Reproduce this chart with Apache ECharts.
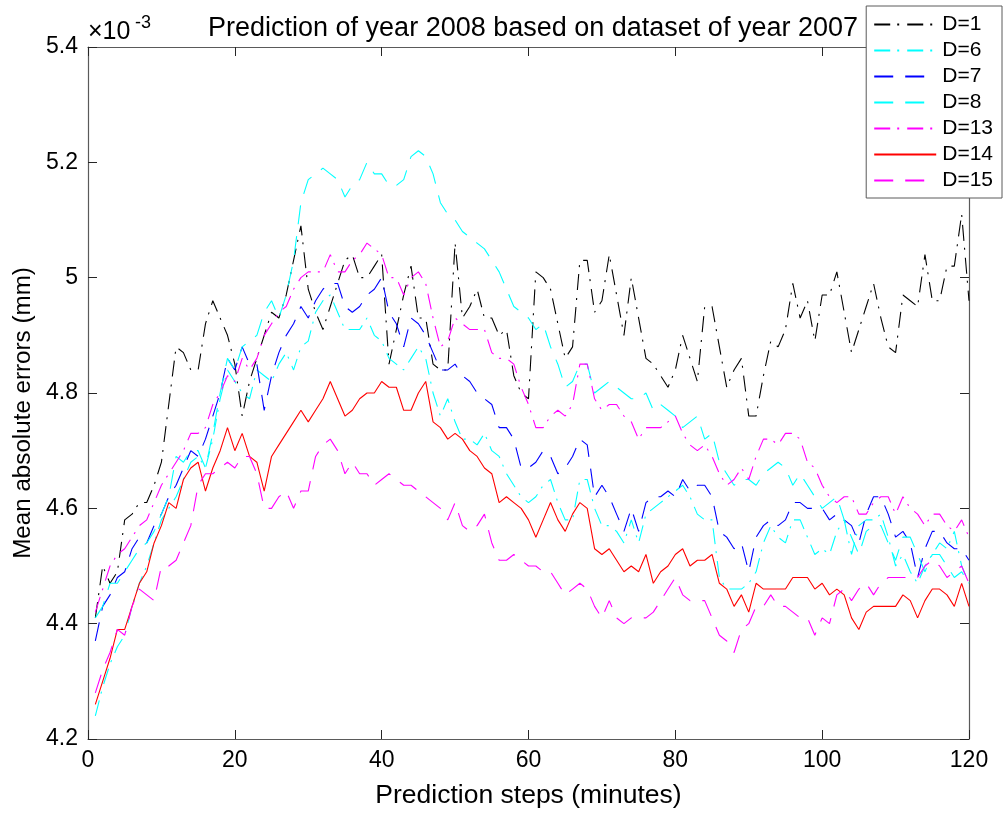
<!DOCTYPE html>
<html>
<head>
<meta charset="utf-8">
<script src="https://cdn.jsdelivr.net/npm/echarts@6/dist/echarts.min.js"></script>
<style>
  html, body { margin: 0; padding: 0; background: #fff; }
  #main { width: 1004px; height: 814px; }
</style>
</head>
<body>
<div id="main"></div>
<script>
// mean absolute errors, in units of 1e-3 mm, for steps 1..120
const d1 = [4.41, 4.50, 4.47, 4.49, 4.58, 4.59, 4.61, 4.61, 4.64, 4.68, 4.78, 4.88, 4.87, 4.84, 4.84, 4.92, 4.96, 4.93, 4.90, 4.85,
  4.76, 4.82, 4.86, 4.90, 4.94, 4.93, 4.97, 5.03, 5.09, 4.98, 4.94, 4.91, 4.95, 4.99, 5.03, 5.04, 5.00, 5.00, 5.02, 5.04,
  4.85, 4.91, 4.97, 5.02, 4.93, 4.93, 4.85, 4.84, 4.84, 5.06, 4.93, 4.95, 4.98, 4.93, 4.93, 4.90, 4.91, 4.83, 4.80, 4.79,
  5.01, 5.00, 4.98, 4.92, 4.86, 4.88, 5.03, 5.03, 4.94, 4.96, 5.04, 4.97, 4.90, 5.00, 4.93, 4.86, 4.85, 4.83, 4.81, 4.84,
  4.90, 4.86, 4.82, 4.95, 4.95, 4.88, 4.81, 4.84, 4.86, 4.76, 4.76, 4.83, 4.89, 4.88, 4.91, 4.99, 4.93, 4.96, 4.89, 4.97,
  4.97, 5.01, 4.94, 4.87, 4.91, 4.95, 4.99, 4.93, 4.88, 4.87, 4.97, 4.96, 4.95, 5.04, 4.96, 4.96, 5.02, 5.02, 5.11, 4.96];
const d6 = [4.24, 4.29, 4.33, 4.36, 4.38, 4.43, 4.47, 4.50, 4.54, 4.58, 4.60, 4.62, 4.65, 4.68, 4.69, 4.67, 4.72, 4.79, 4.84, 4.82,
  4.80, 4.79, 4.84, 4.83, 4.82, 4.85, 4.87, 4.84, 4.88, 4.89, 4.94, 4.96, 4.97, 4.94, 4.91, 4.91, 4.91, 4.93, 4.90, 4.89,
  4.86, 4.85, 4.84, 4.86, 4.88, 4.86, 4.80, 4.76, 4.79, 4.75, 4.72, 4.72, 4.71, 4.73, 4.70, 4.69, 4.66, 4.64, 4.62, 4.61,
  4.62, 4.64, 4.65, 4.61, 4.58, 4.58, 4.65, 4.65, 4.60, 4.57, 4.57, 4.56, 4.54, 4.58, 4.54, 4.59, 4.60, 4.61, 4.62, 4.63,
  4.64, 4.62, 4.59, 4.58, 4.58, 4.48, 4.46, 4.46, 4.46, 4.47, 4.49, 4.54, 4.57, 4.55, 4.54, 4.58, 4.58, 4.55, 4.52, 4.53,
  4.52, 4.56, 4.58, 4.52, 4.57, 4.58, 4.58, 4.59, 4.55, 4.50, 4.52, 4.49, 4.47, 4.50, 4.52, 4.54, 4.53, 4.56, 4.50, 4.47];
const d7 = [4.37, 4.43, 4.45, 4.48, 4.49, 4.53, 4.55, 4.54, 4.57, 4.59, 4.62, 4.64, 4.67, 4.70, 4.69, 4.72, 4.76, 4.80, 4.86, 4.84,
  4.88, 4.85, 4.85, 4.77, 4.83, 4.87, 4.90, 4.92, 4.95, 4.93, 4.96, 4.98, 4.99, 4.99, 4.95, 4.94, 4.95, 4.97, 4.98, 5.00,
  4.94, 4.92, 4.88, 4.93, 4.92, 4.90, 4.87, 4.84, 4.84, 4.85, 4.83, 4.82, 4.80, 4.79, 4.78, 4.74, 4.74, 4.72, 4.67, 4.67,
  4.68, 4.70, 4.69, 4.66, 4.67, 4.69, 4.72, 4.71, 4.62, 4.64, 4.62, 4.59, 4.56, 4.60, 4.56, 4.61, 4.62, 4.62, 4.63, 4.62,
  4.65, 4.63, 4.64, 4.64, 4.62, 4.56, 4.55, 4.53, 4.54, 4.49, 4.55, 4.57, 4.58, 4.57, 4.58, 4.61, 4.61, 4.60, 4.60, 4.60,
  4.58, 4.59, 4.58, 4.57, 4.54, 4.59, 4.62, 4.62, 4.59, 4.55, 4.56, 4.54, 4.48, 4.53, 4.56, 4.56, 4.54, 4.53, 4.53, 4.51];
const d8 = [4.41, 4.43, 4.47, 4.47, 4.49, 4.51, 4.53, 4.54, 4.56, 4.59, 4.62, 4.69, 4.68, 4.70, 4.70, 4.67, 4.73, 4.80, 4.86, 4.84,
  4.88, 4.89, 4.90, 4.94, 4.96, 4.93, 4.97, 5.03, 5.13, 5.17, 5.18, 5.19, 5.18, 5.17, 5.14, 5.16, 5.17, 5.20, 5.18, 5.18,
  5.16, 5.16, 5.17, 5.21, 5.22, 5.21, 5.18, 5.13, 5.11, 5.10, 5.08, 5.07, 5.06, 5.05, 5.03, 5.01, 4.98, 4.95, 4.94, 4.93,
  4.91, 4.92, 4.88, 4.85, 4.81, 4.82, 4.85, 4.85, 4.80, 4.81, 4.82, 4.81, 4.80, 4.79, 4.79, 4.80, 4.77, 4.78, 4.77, 4.76,
  4.74, 4.75, 4.76, 4.72, 4.73, 4.68, 4.66, 4.64, 4.65, 4.65, 4.64, 4.66, 4.67, 4.68, 4.67, 4.64, 4.66, 4.64, 4.62, 4.60,
  4.61, 4.62, 4.58, 4.55, 4.52, 4.56, 4.57, 4.57, 4.54, 4.51, 4.55, 4.55, 4.52, 4.49, 4.52, 4.52, 4.50, 4.48, 4.49, 4.47];
const d13 = [4.42, 4.46, 4.50, 4.52, 4.53, 4.55, 4.57, 4.58, 4.61, 4.64, 4.66, 4.68, 4.70, 4.73, 4.73, 4.74, 4.78, 4.80, 4.83, 4.82,
  4.86, 4.84, 4.86, 4.90, 4.92, 4.94, 4.95, 4.98, 5.00, 5.01, 5.01, 5.01, 5.04, 5.01, 5.01, 5.03, 5.04, 5.06, 5.05, 5.04,
  5.00, 5.00, 4.97, 5.00, 5.01, 4.99, 4.93, 4.88, 4.89, 4.93, 4.92, 4.91, 4.91, 4.91, 4.87, 4.86, 4.86, 4.85, 4.81, 4.78,
  4.74, 4.74, 4.76, 4.77, 4.76, 4.78, 4.85, 4.85, 4.79, 4.77, 4.78, 4.78, 4.76, 4.75, 4.72, 4.74, 4.74, 4.74, 4.75, 4.76,
  4.73, 4.71, 4.70, 4.71, 4.69, 4.66, 4.64, 4.65, 4.67, 4.65, 4.69, 4.72, 4.72, 4.71, 4.73, 4.73, 4.72, 4.68, 4.67, 4.64,
  4.62, 4.61, 4.62, 4.62, 4.59, 4.59, 4.61, 4.62, 4.62, 4.59, 4.62, 4.60, 4.59, 4.57, 4.59, 4.59, 4.57, 4.56, 4.58, 4.55];
const d14 = [4.26, 4.30, 4.34, 4.39, 4.39, 4.43, 4.47, 4.49, 4.54, 4.57, 4.61, 4.60, 4.65, 4.67, 4.68, 4.63, 4.67, 4.70, 4.74, 4.70,
  4.73, 4.69, 4.68, 4.63, 4.69, 4.71, 4.73, 4.75, 4.77, 4.75, 4.77, 4.79, 4.82, 4.79, 4.76, 4.77, 4.79, 4.80, 4.80, 4.82,
  4.81, 4.81, 4.77, 4.77, 4.80, 4.82, 4.75, 4.74, 4.72, 4.73, 4.72, 4.70, 4.69, 4.67, 4.66, 4.61, 4.62, 4.61, 4.60, 4.58,
  4.55, 4.58, 4.61, 4.58, 4.56, 4.59, 4.61, 4.60, 4.53, 4.52, 4.53, 4.51, 4.49, 4.50, 4.49, 4.52, 4.47, 4.49, 4.50, 4.52,
  4.53, 4.50, 4.51, 4.51, 4.52, 4.47, 4.46, 4.43, 4.45, 4.42, 4.47, 4.46, 4.46, 4.46, 4.46, 4.48, 4.48, 4.48, 4.46, 4.47,
  4.45, 4.46, 4.45, 4.41, 4.39, 4.42, 4.43, 4.43, 4.43, 4.43, 4.45, 4.44, 4.41, 4.44, 4.46, 4.46, 4.45, 4.43, 4.47, 4.43];
const d15 = [4.28, 4.32, 4.35, 4.39, 4.38, 4.43, 4.46, 4.45, 4.44, 4.50, 4.50, 4.51, 4.54, 4.57, 4.64, 4.66, 4.66, 4.67, 4.68, 4.67,
  4.69, 4.69, 4.66, 4.60, 4.60, 4.62, 4.63, 4.60, 4.63, 4.63, 4.69, 4.71, 4.72, 4.70, 4.66, 4.68, 4.66, 4.66, 4.64, 4.65,
  4.66, 4.65, 4.64, 4.64, 4.63, 4.62, 4.61, 4.60, 4.58, 4.61, 4.57, 4.56, 4.57, 4.59, 4.54, 4.51, 4.51, 4.52, 4.51, 4.50,
  4.50, 4.49, 4.49, 4.47, 4.45, 4.46, 4.47, 4.46, 4.43, 4.41, 4.44, 4.41, 4.40, 4.41, 4.41, 4.41, 4.42, 4.44, 4.46, 4.48,
  4.45, 4.44, 4.44, 4.44, 4.41, 4.38, 4.37, 4.35, 4.39, 4.40, 4.43, 4.43, 4.45, 4.43, 4.43, 4.42, 4.41, 4.41, 4.38, 4.41,
  4.40, 4.45, 4.46, 4.44, 4.46, 4.47, 4.45, 4.47, 4.48, 4.48, 4.48, 4.48, 4.48, 4.50, 4.51, 4.50, 4.48, 4.49, 4.50, 4.47];

const legendNames = ['D=1', 'D=6', 'D=7', 'D=8', 'D=13', 'D=14', 'D=15'];
const yTicks = [4.2, 4.4, 4.6, 4.8, 5.0, 5.2, 5.4];

const FONT = '"Liberation Sans", Arial, Helvetica, sans-serif';
const AXIS = '#5a5a5a';
const TICK = '#262626';
const DASH = [19, 12];
const DASHDOT = [16, 7, 2, 8];

const styles = [
  { data: d1, color: '#000000', type: DASHDOT },
  { data: d6, color: '#00ffff', type: DASHDOT },
  { data: d7, color: '#0000ff', type: DASH },
  { data: d8, color: '#00ffff', type: DASH },
  { data: d13, color: '#ff00ff', type: DASHDOT },
  { data: d14, color: '#ff0000', type: 'solid' },
  { data: d15, color: '#ff00ff', type: DASH },
];

function toPoints(values) {
  return values.map((v, i) => [i + 1, v]);
}

const chart = echarts.init(document.getElementById('main'), null, { renderer: 'canvas' });

const axisCommon = {
  axisLine: { show: true, onZero: false, lineStyle: { color: AXIS, width: 1.2 } },
  axisTick: { show: true, inside: true, length: 9, lineStyle: { color: TICK, width: 1 } },
  splitLine: { show: false },
};

chart.setOption({
  animation: false,
  backgroundColor: '#ffffff',
  textStyle: { fontFamily: FONT },
  title: {
    text: 'Prediction of year 2008 based on dataset of year 2007',
    left: 528,
    top: 10,
    textAlign: 'center',
    textStyle: { fontFamily: FONT, fontSize: 27, fontWeight: 'normal', color: '#000' },
  },
  grid: { left: 88, right: 35, top: 47, bottom: 73, containLabel: false },
  legend: {
    data: legendNames,
    orient: 'vertical',
    right: 2,
    top: 6,
    itemWidth: 62,
    itemHeight: 14,
    itemGap: 5,
    padding: [8, 9, 7, 7],
    backgroundColor: '#ffffff',
    borderColor: AXIS,
    borderWidth: 1,
    borderRadius: 0,
    itemStyle: { color: 'rgba(0,0,0,0)', borderWidth: 0, opacity: 0 },
    textStyle: { fontFamily: FONT, fontSize: 21, color: '#000', padding: [0, 0, 0, 1] },
  },
  xAxis: [
    Object.assign({
      type: 'value', min: 0, max: 120, interval: 20, position: 'bottom',
      name: 'Prediction steps (minutes)', nameLocation: 'middle', nameGap: 43,
      nameTextStyle: { fontFamily: FONT, fontSize: 26.5, color: '#000' },
      axisLabel: { fontFamily: FONT, fontSize: 23, color: '#000', margin: 10 },
    }, axisCommon),
    Object.assign({
      type: 'value', min: 0, max: 120, interval: 20, position: 'top',
      axisLabel: { show: false },
    }, axisCommon),
  ],
  yAxis: [
    Object.assign({
      type: 'value', min: 4.2, max: 5.4, interval: 0.2, position: 'left',
      name: 'Mean absolute errors (mm)', nameLocation: 'middle', nameGap: 40,
      nameTextStyle: { fontFamily: FONT, fontSize: 24.2, color: '#000', padding: [0, 40, 0, 0] },
      axisLabel: {
        fontFamily: FONT, fontSize: 23, color: '#000', margin: 10,
        formatter: (v) => {
          const t = yTicks.find((y) => Math.abs(y - v) < 1e-6);
          return t === undefined ? '' : (t === 5 ? '5' : t.toFixed(1));
        },
      },
    }, axisCommon),
    Object.assign({
      type: 'value', min: 4.2, max: 5.4, interval: 0.2, position: 'right',
      axisLabel: { show: false },
    }, axisCommon),
  ],
  graphic: [
    {
      type: 'text', left: 88, top: 20,
      style: { text: '×10', fontFamily: FONT, fontSize: 25, fill: '#000' },
    },
    {
      type: 'text', left: 135, top: 14,
      style: { text: '-3', fontFamily: FONT, fontSize: 18, fill: '#000' },
    },
  ],
  series: styles.map((s, k) => ({
    name: legendNames[k],
    type: 'line',
    data: toPoints(s.data),
    showSymbol: false,
    symbol: 'none',
    smooth: false,
    lineStyle: { color: s.color, width: 1.1, type: s.type },
    itemStyle: { color: s.color },
  })),
});
</script>
</body>
</html>
